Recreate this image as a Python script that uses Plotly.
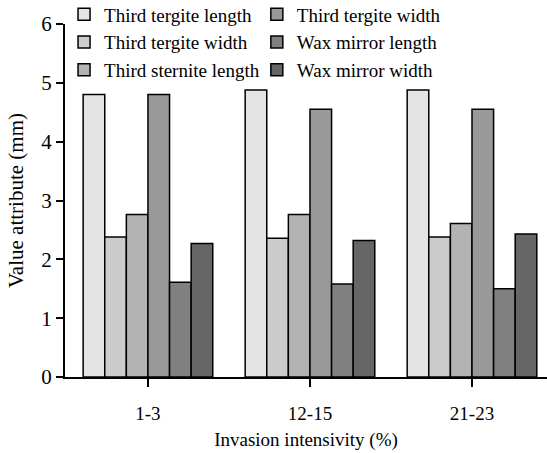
import plotly.graph_objects as go

categories = ["1-3", "12-15", "21-23"]
series_names = ["Third tergite length", "Third tergite width", "Third sternite length",
                "Third tergite width", "Wax mirror length", "Wax mirror width"]
v_third_tergite_length = [4.80, 4.88, 4.88]
v_third_tergite_width = [2.38, 2.36, 2.38]
v_third_sternite_length = [2.76, 2.76, 2.61]
v_third_tergite_width_b = [4.80, 4.55, 4.55]
v_wax_mirror_length = [1.61, 1.58, 1.50]
v_wax_mirror_width = [2.27, 2.32, 2.43]
series_values = [v_third_tergite_length, v_third_tergite_width, v_third_sternite_length,
                 v_third_tergite_width_b, v_wax_mirror_length, v_wax_mirror_width]
colors = ["#e4e4e4", "#cccccc", "#b3b3b3", "#999999", "#808080", "#666666"]

FONT = "Liberation Serif, Times New Roman, serif"

fig = go.Figure()
for i, (name, vals, c) in enumerate(zip(series_names, series_values, colors)):
    fig.add_trace(go.Bar(
        x=categories, y=vals, name=name,
        marker=dict(color=c, line=dict(color="black", width=1.5)),
        legend="legend" if i < 3 else "legend2",
    ))

legend_common = dict(
    font=dict(family=FONT, size=19, color="black"),
    bgcolor="rgba(0,0,0,0)", orientation="v",
    yanchor="top", xanchor="left", itemwidth=30,
    tracegroupgap=0, traceorder="normal",
)

fig.update_layout(
    width=547, height=453,
    margin=dict(l=65, r=0, t=24, b=76, autoexpand=False),
    plot_bgcolor="white", paper_bgcolor="white",
    font=dict(family=FONT, size=19, color="black"),
    barmode="group", bargap=0.2, bargroupgap=0,
    showlegend=True,
    legend=dict(x=-0.002, y=1.081, **legend_common),
    legend2=dict(x=0.398, y=1.081, **legend_common),
    xaxis=dict(
        range=[-0.512, 2.463], showline=True, linecolor="black", linewidth=2,
        ticks="outside", ticklen=8, tickwidth=2, tickcolor="black",
        showgrid=False, zeroline=False, ticklabelstandoff=10,
        tickfont=dict(family=FONT, size=19),
        title=dict(text="Invasion intensivity (%)", font=dict(family=FONT, size=19), standoff=10),
    ),
    yaxis=dict(
        range=[0, 6], dtick=1, showline=True, linecolor="black", linewidth=2,
        ticks="outside", ticklen=7, tickwidth=2, tickcolor="black",
        showgrid=False, zeroline=False,
        tickfont=dict(family=FONT, size=21),
        title=dict(text="Value attribute (mm)", font=dict(family=FONT, size=21), standoff=12),
    ),
)

fig.write_html("out.html", config={"displayModeBar": False},
               post_script="document.body.style.margin='0';")
